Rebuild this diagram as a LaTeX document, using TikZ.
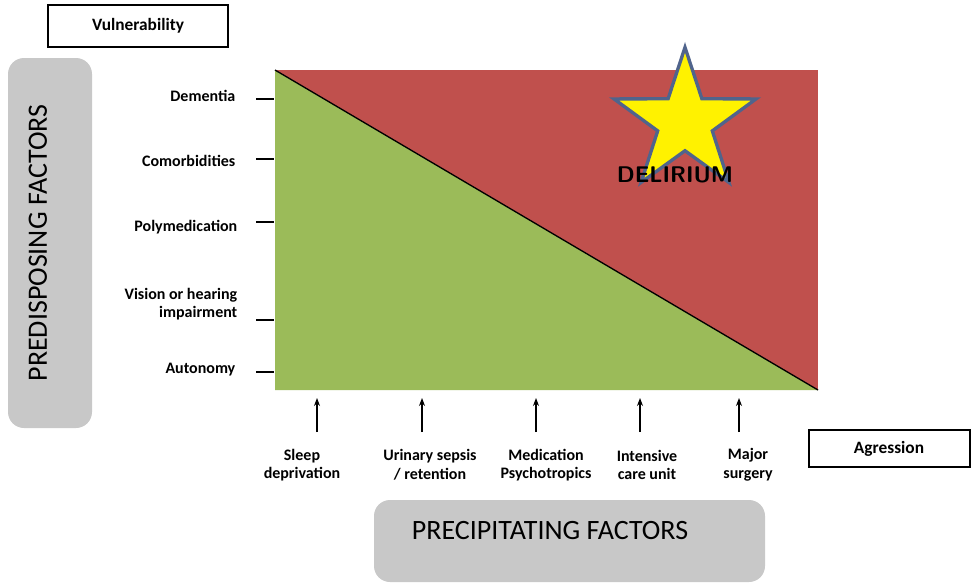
\documentclass[tikz,border=0pt]{standalone}
\usepackage{fontspec}
\setmainfont{Carlito}
\usetikzlibrary{shapes.geometric,arrows.meta}
\definecolor{gr}{HTML}{9BBB59}
\definecolor{rd}{HTML}{C0504D}
\definecolor{gbox}{HTML}{C8C8C8}
\tikzset{
 wbox/.style={draw=black,fill=white,line width=0.8pt,font=\bfseries\fontsize{13}{15}\selectfont},
 graybox/.style={fill=gbox,rounded corners=12pt},
 lab/.style={font=\bfseries\fontsize{12}{14}\selectfont,align=center},
 ylab/.style={font=\bfseries\fontsize{12}{14}\selectfont,align=right,anchor=east},
 tick/.style={line width=2pt},
 up/.style={-{Stealth[length=6pt]},line width=0.8pt}
}
\begin{document}
\begin{tikzpicture}[x=0.75pt,y=-0.75pt]
\useasboundingbox (0,0) rectangle (972,587);
% boxes
\draw[wbox] (48,5) rectangle (228,47);
\node[font=\bfseries\fontsize{13}{15}\selectfont] (vul) at (138,26) {Vulnerability};
\fill[graybox] (8,58) rectangle (92,428);
\node[rotate=90,font=\fontsize{21}{24}\selectfont] (pf) at (38,243) {PREDISPOSING FACTORS};
\draw[wbox] (809,430) rectangle (970,467);
\node[font=\bfseries\fontsize{13}{15}\selectfont] (ag) at (889,449) {Agression};
\fill[graybox] (374,500) rectangle (765,582);
\node[font=\fontsize{21}{24}\selectfont] (prf) at (550,530) {PRECIPITATING FACTORS};
% main
\fill[rd] (275,70) rectangle (818,390);
\fill[gr] (275,70) -- (275,390) -- (818,390) -- cycle;
\coordinate (tl) at (275,70); \coordinate (br) at (818,390);
\draw[line width=1pt] (tl) -- (br);
% star
\node[star,star points=5,star point ratio=2.6,minimum size=112pt,fill=yellow,draw={rgb,255:red,80;green,100;blue,140},line width=2.5pt] (st) at (685,122) {};
\node[font=\sffamily\bfseries\fontsize{17}{20}\selectfont] (del) at (675,175) {DELIRIUM};
% ticks and labels
\foreach \y/\t [count=\i] in {99/Dementia,159/Comorbidities,222/Polymedication,320/{},372/Autonomy}{
  \draw[tick] (256,\y) -- (274,\y);
}
\node[ylab] (d1) at (240,96) {Dementia};
\node[ylab] (d2) at (240,161) {Comorbidities};
\node[ylab] (d3) at (242,227) {Polymedication};
\node[ylab] (d4) at (242,304) {Vision or hearing\\impairment};
\node[ylab] (d5) at (240,370) {Autonomy};
% arrows and labels
\foreach \x/\lx/\t [count=\i] in {317/302/{Sleep\\deprivation},422/430/{Urinary sepsis\\/ retention},536/546/{Medication\\Psychotropics},640/647/{Intensive\\care unit},739/748/{Major\\surgery}}{
  \coordinate (a\i) at (\x,432);
  \coordinate (b\i) at (\x,398);
  \draw[up] (a\i) -- (b\i);
  \node[lab] (p\i) at (\lx,465) {\t};
}
\end{tikzpicture}
\end{document}
